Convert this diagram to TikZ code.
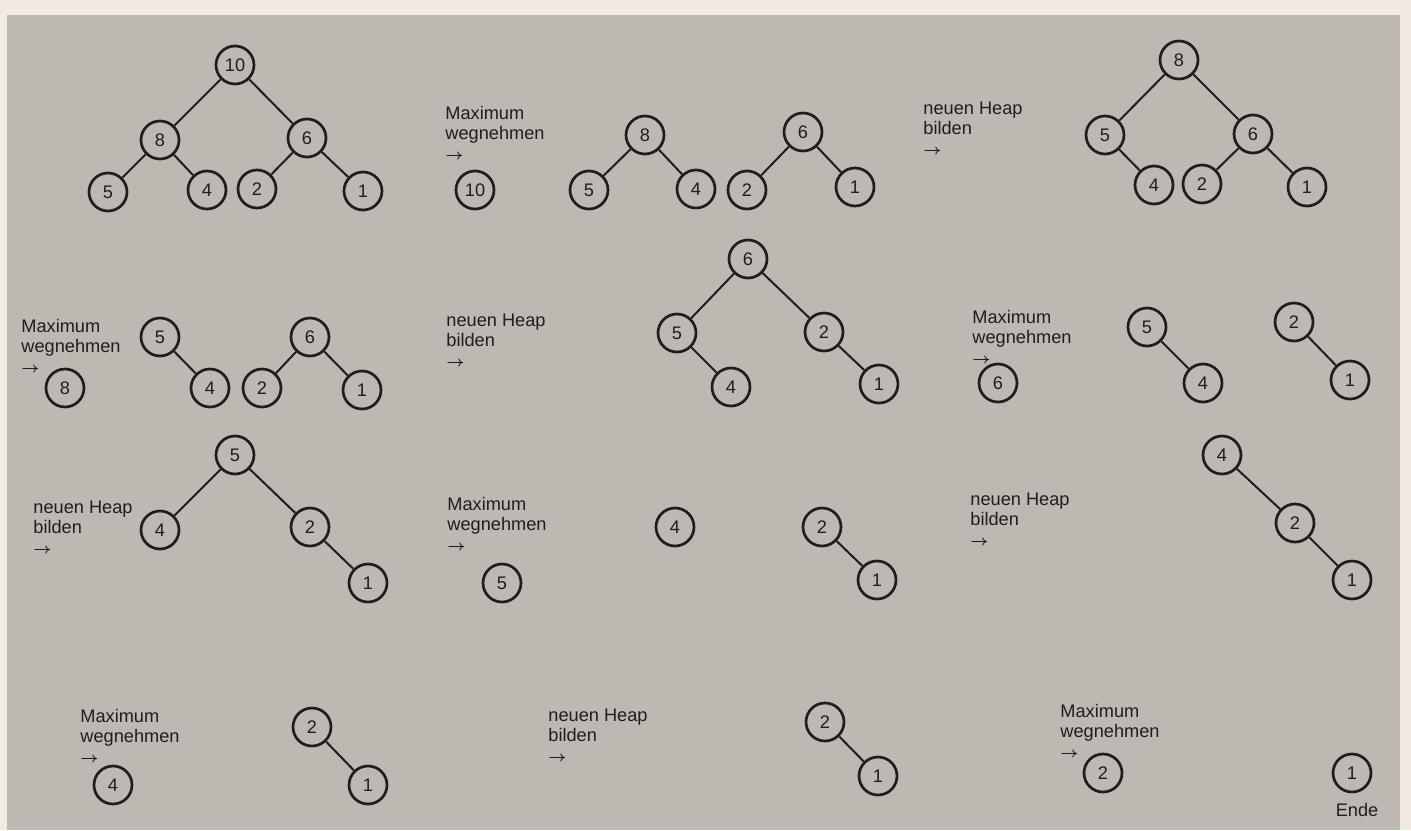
\documentclass[tikz,border=0pt]{standalone}
\usepackage{fontspec}
\setmainfont{Liberation Sans}
\usetikzlibrary{positioning}
\definecolor{papier}{HTML}{F2E9E1}
\definecolor{karton}{HTML}{BDB8B2}
\definecolor{tinte}{HTML}{1E1E1E}
\newcommand\notizfont{\fontsize{9.1}{10}\selectfont}
\newcommand\pfeil{{\fontsize{6.8}{6.8}\selectfont$\boldsymbol{\rightarrow}$}}
\usepackage{amsmath,bm}

\begin{document}
\begin{tikzpicture}[x=0.5pt,y=-0.5pt,  % 1 unit = 1 px of the scan
  knoten/.style={circle,draw=tinte,line width=1.35pt,minimum size=19pt,inner sep=0pt,text=tinte,font=\notizfont},
  kante/.style={draw=tinte,line width=1pt},
  notiz/.style={anchor=north west,align=left,inner sep=0pt,text=tinte,font=\notizfont}]
  \fill[papier] (0,0) rectangle (1411,830);
  \fill[karton] (7,15) rectangle (1400,830);
  \useasboundingbox (0,0) rectangle (1411,830);
  % ---- row 1: heap, take max, new heap
  \node[knoten] (a10) at (235,65) {10};
  \node[knoten] (a8) at (160,140) {8};
  \node[knoten] (a6) at (307,138) {6};
  \node[knoten] (a5) at (108,192) {5};
  \node[knoten] (a4) at (207,190) {4};
  \node[knoten] (a2) at (257,189) {2};
  \node[knoten] (a1) at (363,191) {1};
  \node[notiz] (tb) at (445,106) {Maximum\\wegnehmen\\\pfeil};
  \node[knoten] (b10) at (475,190) {10};
  \node[knoten] (b8) at (645,135) {8};
  \node[knoten] (b5) at (589,190) {5};
  \node[knoten] (b4) at (696,189) {4};
  \node[knoten] (b6) at (803,132) {6};
  \node[knoten] (b2) at (747,190) {2};
  \node[knoten] (b1) at (855,187) {1};
  \node[notiz] (tc) at (923,102) {neuen Heap\\bilden\\\pfeil};
  \node[knoten] (c8) at (1179,60) {8};
  \node[knoten] (c5) at (1105,135) {5};
  \node[knoten] (c6) at (1253,134) {6};
  \node[knoten] (c4) at (1154,185) {4};
  \node[knoten] (c2) at (1202,184) {2};
  \node[knoten] (c1) at (1307,187) {1};
  % ---- row 2
  \node[notiz] (td) at (21,319) {Maximum\\wegnehmen\\\pfeil};
  \node[knoten] (d8) at (65,388) {8};
  \node[knoten] (d5) at (160,337) {5};
  \node[knoten] (d4) at (210,388) {4};
  \node[knoten] (d6) at (310,337) {6};
  \node[knoten] (d2) at (262,388) {2};
  \node[knoten] (d1) at (362,390) {1};
  \node[notiz] (te) at (446,314) {neuen Heap\\bilden\\\pfeil};
  \node[knoten] (e6) at (748,259) {6};
  \node[knoten] (e5) at (677,333) {5};
  \node[knoten] (e2) at (824,332) {2};
  \node[knoten] (e4) at (731,387) {4};
  \node[knoten] (e1) at (879,384) {1};
  \node[notiz] (tf) at (972,310) {Maximum\\wegnehmen\\\pfeil};
  \node[knoten] (f6) at (998,383) {6};
  \node[knoten] (f5) at (1147,327) {5};
  \node[knoten] (f4) at (1203,383) {4};
  \node[knoten] (f2) at (1294,322) {2};
  \node[knoten] (f1) at (1350,380) {1};
  % ---- row 3
  \node[notiz] (tg) at (33,501) {neuen Heap\\bilden\\\pfeil};
  \node[knoten] (g5) at (235,455) {5};
  \node[knoten] (g4) at (160,530) {4};
  \node[knoten] (g2) at (310,527) {2};
  \node[knoten] (g1) at (368,583) {1};
  \node[notiz] (th) at (447,497) {Maximum\\wegnehmen\\\pfeil};
  \node[knoten] (h5) at (502,583) {5};
  \node[knoten] (h4) at (675,527) {4};
  \node[knoten] (h2) at (822,527) {2};
  \node[knoten] (h1) at (877,580) {1};
  \node[notiz] (ti) at (970,493) {neuen Heap\\bilden\\\pfeil};
  \node[knoten] (i4) at (1222,455) {4};
  \node[knoten] (i2) at (1295,523) {2};
  \node[knoten] (i1) at (1352,580) {1};
  % ---- row 4
  \node[notiz] (tj) at (80,709) {Maximum\\wegnehmen\\\pfeil};
  \node[knoten] (j4) at (113,785) {4};
  \node[knoten] (j2) at (312,727) {2};
  \node[knoten] (j1) at (368,785) {1};
  \node[notiz] (tk) at (548,709) {neuen Heap\\bilden\\\pfeil};
  \node[knoten] (k2) at (825,722) {2};
  \node[knoten] (k1) at (878,776) {1};
  \node[notiz] (tl) at (1060,704) {Maximum\\wegnehmen\\\pfeil};
  \node[knoten] (l2) at (1103,773) {2};
  \node[knoten] (l1) at (1352,773) {1};
  \node[notiz,anchor=north,below=5pt of l1,xshift=2.5pt] (ende) {Ende};
  % edges
  \foreach \u/\v in {a10/a8,a10/a6,a8/a5,a8/a4,a6/a2,a6/a1,
                     b8/b5,b8/b4,b6/b2,b6/b1,
                     c8/c5,c8/c6,c5/c4,c6/c2,c6/c1,
                     d5/d4,d6/d2,d6/d1,
                     e6/e5,e6/e2,e5/e4,e2/e1,
                     f5/f4,f2/f1,
                     g5/g4,g5/g2,g2/g1,
                     h2/h1,
                     i4/i2,i2/i1,
                     j2/j1,
                     k2/k1}
    \draw[kante] (\u) -- (\v);
\end{tikzpicture}
\end{document}
